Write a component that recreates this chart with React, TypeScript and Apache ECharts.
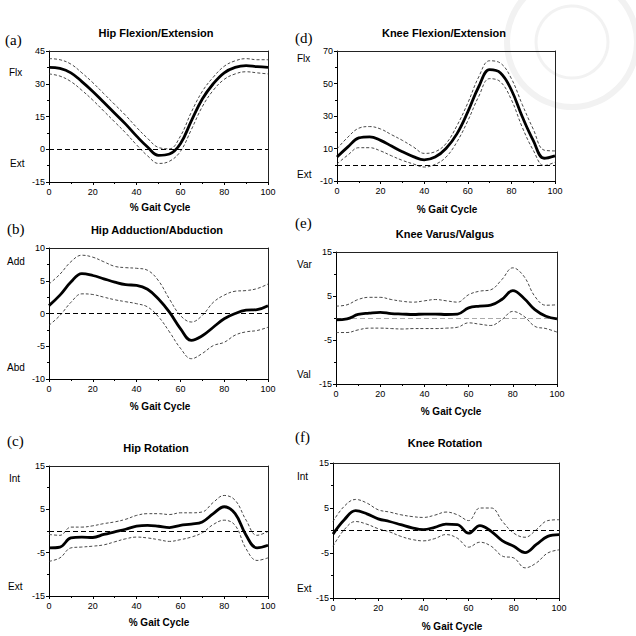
import React, { useEffect, useRef } from "react";
import * as echarts from "echarts";

// % gait cycle sample points
const GAIT = [0, 5, 10, 15, 20, 25, 30, 35, 40, 45, 50, 55, 60, 65, 70, 75, 80, 85, 90, 95, 100];

// (a) Hip Flexion/Extension
const HIP_FLEX_MEAN = [37.5, 37, 35, 31, 26.5, 21.5, 16.5, 11.5, 6, 1, -2.8, -2.2, 2.5, 13, 23, 30, 35, 37.5, 38.3, 37.8, 37.5];
const HIP_FLEX_UPPER = [41.5, 41, 39, 35, 30.5, 25.5, 20.5, 15.5, 10, 5, 0.8, 0.2, 6, 17, 26.5, 33, 38, 40.5, 41.5, 41, 41];
const HIP_FLEX_LOWER = [34.5, 33.5, 31, 27, 22.5, 17.5, 12.5, 7.5, 2, -3, -6.5, -5.5, -1, 9, 19.5, 27, 32, 34.5, 35.5, 35, 34.5];

// (b) Hip Adduction/Abduction
const HIP_ADD_MEAN = [1.2, 2.8, 4.8, 6.1, 5.8, 5.3, 4.8, 4.4, 4.3, 3.7, 2.2, 0.2, -2.3, -4.1, -3.4, -2.1, -0.8, 0, 0.5, 0.6, 1.2];
const HIP_ADD_UPPER = [4.5, 6, 7.9, 8.9, 8.6, 7.9, 7.2, 7, 6.9, 6.6, 5, 2.2, -0.3, -1.3, -0.3, 1.7, 2.8, 3.4, 3.5, 3.8, 4.5];
const HIP_ADD_LOWER = [-1.8, -0.3, 1.7, 3, 2.9, 2.5, 2.1, 1.8, 1.5, 1, -0.5, -2.8, -5.3, -6.9, -6.1, -4.9, -4.4, -3.3, -2.8, -2.6, -2.1];

// (c) Hip Rotation
const HIP_ROT_MEAN = [-3.9, -3.7, -1.6, -1.4, -1.5, -0.8, -0.2, 0.4, 1.1, 1.3, 1.1, 0.8, 1.3, 1.6, 2.1, 4, 5.6, 4, -1, -3.9, -3.3];
const HIP_ROT_UPPER = [-0.8, -1, 0.9, 0.9, 1.2, 1.7, 2.1, 2.7, 3.6, 4, 4, 3.8, 4.2, 4.2, 4.4, 6.6, 8.2, 7.1, 2.5, -1, -0.1];
const HIP_ROT_LOWER = [-7, -6.2, -3.9, -3.7, -3.5, -3.2, -2.5, -1.8, -1.4, -1.6, -2, -2.4, -2, -1.4, -0.4, 1.5, 2.5, 1.3, -4.1, -6.8, -6.2];

// (d) Knee Flexion/Extension
const KNEE_FLEX_MEAN = [4.7, 11, 16.5, 17.2, 15, 11.5, 8, 5, 3, 4.7, 10, 19, 32.5, 48, 58.5, 56.5, 46, 29.5, 15, 4, 5.5];
const KNEE_FLEX_UPPER = [9.8, 17, 22.5, 23.5, 22, 18.5, 15, 11, 7, 8, 13, 24, 38, 54, 64, 62.5, 53, 37, 22, 9, 8.5];
const KNEE_FLEX_LOWER = [0.5, 6, 10.5, 10.5, 8.5, 5.5, 2.7, 0.5, -1.4, 0.2, 4.7, 14, 27, 42, 53, 51, 40, 23, 9, -0.5, 1.6];

// (e) Knee Varus/Valgus
const KNEE_VAR_MEAN = [-0.4, -0.2, 0.8, 1.1, 1.3, 1, 0.9, 0.8, 0.9, 0.9, 0.8, 0.9, 2.3, 2.7, 2.9, 4.2, 6.2, 4.5, 1.9, 0.4, -0.2];
const KNEE_VAR_UPPER = [2.7, 3, 4.2, 4.7, 4.7, 4.2, 3.8, 3.6, 3.9, 4.2, 3.9, 3.6, 5.3, 6.1, 6.4, 8.7, 11.4, 9.5, 4.9, 2.9, 3];
const KNEE_VAR_LOWER = [-3.3, -3.3, -2.7, -2.3, -2.3, -2.4, -2.5, -2.4, -2.4, -2.4, -2.3, -2.1, -1.1, -1.4, -1.7, -0.4, 1.5, 0.4, -1.9, -2.4, -3.2];

// (f) Knee Rotation
const KNEE_ROT_MEAN = [-0.8, 2.4, 4.4, 3.7, 2.6, 2, 1.3, 0.6, 0.2, 0.7, 1.4, 1.3, -0.6, 1.1, -0.2, -2.3, -3.5, -4.9, -3.1, -1.3, -0.9];
const KNEE_ROT_UPPER = [2, 5.4, 6.9, 6.1, 4.6, 4.1, 3.5, 3.1, 2.9, 3.4, 4.1, 3.5, 2.2, 5, 5, 2, -0.6, -1.5, 0.2, 2.2, 2.4];
const KNEE_ROT_LOWER = [-3.5, 0.2, 2, 1.4, 0.4, -0.3, -1.3, -2, -2.3, -1.8, -0.9, -1.7, -3.7, -2.6, -3.5, -5.7, -6.1, -8.3, -7.2, -5, -4.3];

const TITLES = ["Hip Flexion/Extension", "Hip Adduction/Abduction", "Hip Rotation", "Knee Flexion/Extension", "Knee Varus/Valgus", "Knee Rotation"];
const PANEL_TAGS = ["(a)", "(b)", "(c)", "(d)", "(e)", "(f)"];
const SIDE_TOP = ["Flx", "Add", "Int", "Flx", "Var", "Int"];
const SIDE_BOTTOM = ["Ext", "Abd", "Ext", "Ext", "Val", "Ext"];
const Y_MIN = [-15, -10, -15, -10, -15, -15];
const Y_MAX = [45, 10, 15, 70, 15, 15];
const Y_STEP = [15, 5, 10, 20, 10, 10];
const X_NAME = "% Gait Cycle";

const MEANS = [HIP_FLEX_MEAN, HIP_ADD_MEAN, HIP_ROT_MEAN, KNEE_FLEX_MEAN, KNEE_VAR_MEAN, KNEE_ROT_MEAN];
const UPPERS = [HIP_FLEX_UPPER, HIP_ADD_UPPER, HIP_ROT_UPPER, KNEE_FLEX_UPPER, KNEE_VAR_UPPER, KNEE_ROT_UPPER];
const LOWERS = [HIP_FLEX_LOWER, HIP_ADD_LOWER, HIP_ROT_LOWER, KNEE_FLEX_LOWER, KNEE_VAR_LOWER, KNEE_ROT_LOWER];

// layout (pixels)
const GRIDS = [
  { left: 49, top: 51, width: 219, height: 131 },
  { left: 49, top: 248, width: 219, height: 131 },
  { left: 49, top: 466, width: 219, height: 130 },
  { left: 337, top: 51, width: 218, height: 130 },
  { left: 336, top: 252, width: 221, height: 132 },
  { left: 333, top: 463, width: 226, height: 135 },
];
const TITLE_POS = [[156, 33], [157, 230], [156, 448], [444, 33], [445, 234], [445, 443]];
const TAG_POS = [[5, 40], [7, 229], [7, 441], [295, 38], [295, 223], [295, 437]];
const SIDE_TOP_POS = [[9, 72], [7, 261], [9, 478], [297, 58], [297, 264], [297, 476]];
const SIDE_BOT_POS = [[10, 163], [7, 367], [8, 586], [297, 174], [297, 374], [297, 588]];
const XNAME_POS = [[160, 207], [160, 406], [159, 622], [447, 209], [451, 411], [452, 626]];

const SANS = "'Liberation Sans', Arial, Helvetica, sans-serif";
const SERIF = "'Liberation Serif', 'Times New Roman', serif";

export default function App() {
  const ref = useRef<HTMLDivElement>(null);
  useEffect(() => {
    if (!ref.current) return;
    const chart = echarts.init(ref.current, undefined, { renderer: "svg" });
    const grid: any[] = [];
    const xAxis: any[] = [];
    const yAxis: any[] = [];
    const series: any[] = [];
    const graphic: any[] = [];

    // faint watermark seal
    graphic.push({ type: "ring", shape: { cx: 572, cy: 42, r: 68, r0: 62 }, style: { fill: "#f2f2f2" }, silent: true, z: -10 });
    graphic.push({ type: "circle", shape: { cx: 572, cy: 42, r: 36 }, style: { fill: "none", stroke: "#f2f2f2", lineWidth: 3 }, silent: true, z: -10 });

    const axisLine = { show: true, onZero: false, lineStyle: { color: "#000", width: 1 } };
    for (let i = 0; i < 6; i++) {
      const g = GRIDS[i];
      grid.push({ ...g });
      // bottom / left axes
      xAxis.push({
        type: "value", gridIndex: i, min: 0, max: 100, interval: 20, position: "bottom",
        axisLine,
        axisTick: { show: true, length: 3, lineStyle: { color: "#000" } },
        minorTick: { show: true, splitNumber: 2, length: 2, lineStyle: { color: "#000" } },
        splitLine: { show: false },
        axisLabel: { fontSize: 9, color: "#000", margin: 5, fontFamily: SANS },
      });
      yAxis.push({
        type: "value", gridIndex: i, min: Y_MIN[i], max: Y_MAX[i], interval: Y_STEP[i], position: "left",
        axisLine,
        axisTick: { show: true, length: 3, lineStyle: { color: "#000" } },
        minorTick: { show: true, splitNumber: 2, length: 2, lineStyle: { color: "#000" } },
        splitLine: { show: false },
        axisLabel: { fontSize: 9, color: "#000", margin: 4, fontFamily: SANS },
      });
    }
    // frame: top / right axes
    for (let i = 0; i < 6; i++) {
      xAxis.push({
        type: "value", gridIndex: i, min: 0, max: 100, position: "top",
        axisLine: { show: true, onZero: false, lineStyle: { color: "#222", width: 1 } },
        axisTick: { show: false }, axisLabel: { show: false }, splitLine: { show: false },
      });
      yAxis.push({
        type: "value", gridIndex: i, min: Y_MIN[i], max: Y_MAX[i], position: "right",
        axisLine: { show: true, onZero: false, lineStyle: { color: "#222", width: 1 } },
        axisTick: { show: false }, axisLabel: { show: false }, splitLine: { show: false },
      });
    }

    for (let i = 0; i < 6; i++) {
      const toPts = (arr: number[]) => GAIT.map((x, k) => [x, arr[k]]);
      const boundStyle = { color: "#333", width: 0.9, type: [3, 2] };
      series.push({
        type: "line", xAxisIndex: i, yAxisIndex: i, data: toPts(UPPERS[i]), smooth: 0.4,
        symbol: "none", lineStyle: boundStyle, silent: true,
      });
      series.push({
        type: "line", xAxisIndex: i, yAxisIndex: i, data: toPts(LOWERS[i]), smooth: 0.4,
        symbol: "none", lineStyle: boundStyle, silent: true,
      });
      series.push({
        type: "line", xAxisIndex: i, yAxisIndex: i, data: toPts(MEANS[i]), smooth: 0.4,
        symbol: "none", lineStyle: { color: "#000", width: 2.8 }, silent: true, z: 5,
        markLine: {
          silent: true, symbol: ["none", "none"], label: { show: false },
          lineStyle: { color: i === 4 ? "#aaa" : "#000", width: 1, type: [5, 3] },
          emphasis: { disabled: true },
          data: [{ yAxis: 0 }],
        },
      });
      graphic.push({
        type: "text", x: TITLE_POS[i][0], y: TITLE_POS[i][1],
        style: { text: TITLES[i], font: `bold 11px ${SANS}`, fill: "#000", align: "center", verticalAlign: "middle" },
      });
      graphic.push({
        type: "text", x: TAG_POS[i][0], y: TAG_POS[i][1],
        style: { text: PANEL_TAGS[i], font: `15px ${SERIF}`, fill: "#000", align: "left", verticalAlign: "middle" },
      });
      graphic.push({
        type: "text", x: SIDE_TOP_POS[i][0], y: SIDE_TOP_POS[i][1],
        style: { text: SIDE_TOP[i], font: `10px ${SANS}`, fill: "#000", align: "left", verticalAlign: "middle" },
      });
      graphic.push({
        type: "text", x: SIDE_BOT_POS[i][0], y: SIDE_BOT_POS[i][1],
        style: { text: SIDE_BOTTOM[i], font: `10px ${SANS}`, fill: "#000", align: "left", verticalAlign: "middle" },
      });
      graphic.push({
        type: "text", x: XNAME_POS[i][0], y: XNAME_POS[i][1],
        style: { text: X_NAME, font: `bold 10px ${SANS}`, fill: "#000", align: "center", verticalAlign: "middle" },
      });
    }

    chart.setOption({ animation: false, backgroundColor: "#fff", grid, xAxis, yAxis, series, graphic });
    return () => chart.dispose();
  }, []);
  return <div ref={ref} style={{ position: "absolute", left: 0, top: 0, width: 636, height: 636 }} />;
}
